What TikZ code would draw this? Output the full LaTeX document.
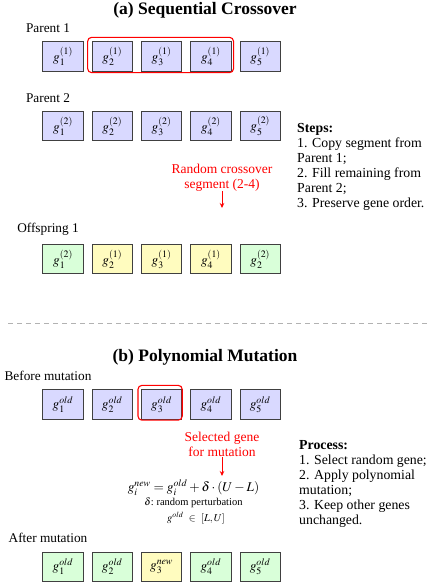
\documentclass[tikz,border=0pt]{standalone}
\usepackage{mathptmx}
\usepackage{fontspec}
\setmainfont{Liberation Serif}
\usetikzlibrary{arrows.meta,calc}
\begin{document}
\begin{tikzpicture}[x=1pt,y=-1pt,
 gene/.style={draw=black!75, line width=0.8pt, minimum width=40.5pt, minimum height=29.5pt, inner sep=0pt, font=\fontsize{13.3}{16}\selectfont},
 gblue/.style={gene, fill=blue!15},
 gyel/.style={gene, fill=yellow!25},
 ggreen/.style={gene, fill=green!15},
 lbl/.style={font=\fontsize{13.3}{16}\selectfont, inner sep=0pt},
 ttl/.style={font=\fontsize{17.5}{20}\selectfont\bfseries, inner sep=0pt},
 redtxt/.style={font=\fontsize{13.5}{15}\selectfont, text=red, align=center, inner sep=0pt},
 sel/.style={draw=red, line width=1.1pt, rounded corners=4pt},
 redarrow/.style={red, line width=0.9pt, -{Stealth[length=5pt,width=4.5pt]}},
 notes/.style={font=\fontsize{13.8}{15}\selectfont, align=left, inner sep=0pt},
 sep/.style={gray!60, line width=0.8pt, dash pattern=on 5pt off 4pt}
]
\useasboundingbox (0,0) rectangle (432,585);

% ---------- (a) Sequential Crossover ----------
\node[ttl] (ta) at (205,10) {(a) Sequential Crossover};
\node[lbl] (lp1) at (48,28) {Parent 1};
\node[lbl] (lp2) at (48,98) {Parent 2};
\node[lbl] (lo1) at (48,229) {Offspring 1};

\foreach \i/\x in {1/63,2/112.3,3/161.6,4/210.9,5/260.2}{
  \node[gblue] (p1\i) at (\x,56.5) {$g_{\i}^{(1)}$};
  \node[gblue] (p2\i) at (\x,126) {$g_{\i}^{(2)}$};
}
\node[ggreen] (o1) at (63,259)    {$g_{1}^{(2)}$};
\node[gyel]   (o2) at (112.3,259) {$g_{2}^{(1)}$};
\node[gyel]   (o3) at (161.6,259) {$g_{3}^{(1)}$};
\node[gyel]   (o4) at (210.9,259) {$g_{4}^{(1)}$};
\node[ggreen] (o5) at (260.2,259) {$g_{2}^{(2)}$};

\draw[sel] ($(p12.north west)+(-4,-4)$) rectangle ($(p14.south east)+(2,1)$);

\node[redtxt] (rc) at (222,177.5) {Random crossover\\segment (2-4)};
\coordinate (rcend) at (222,208);
\draw[redarrow] (rc.south) -- (rcend);

\node[notes, anchor=north west] (steps) at (297,123.5)
  {\textbf{Steps:}\\1. Copy segment from\\Parent 1;\\2. Fill remaining from\\Parent 2;\\3. Preserve gene order.};

% ---------- separator ----------
\coordinate (dl) at (8,323);
\coordinate (dr) at (428,323);
\draw[sep] (dl) -- (dr);

% ---------- (b) Polynomial Mutation ----------
\node[ttl] (tb) at (205,357) {(b) Polynomial Mutation};
\node[lbl] (lbm) at (48,376) {Before mutation};
\node[lbl] (lam) at (48,538) {After mutation};

\foreach \i/\x in {1/63,2/112.3,3/161.6,4/210.9,5/260.2}{
  \node[gblue] (b\i) at (\x,404.5) {$g_{\i}^{old}$};
}
\node[ggreen] (a1) at (63,567)    {$g_{1}^{old}$};
\node[ggreen] (a2) at (112.3,567) {$g_{2}^{old}$};
\node[gyel]   (a3) at (161.6,567) {$g_{3}^{new}$};
\node[ggreen] (a4) at (210.9,567) {$g_{4}^{old}$};
\node[ggreen] (a5) at (260.2,567) {$g_{5}^{old}$};

\draw[sel] ($(b3.north west)+(-3,-4)$) rectangle ($(b3.south east)+(0,0.5)$);

\node[redtxt] (sg) at (222,444.5) {Selected gene\\for mutation};
\coordinate (sgend) at (222,476);
\draw[redarrow] (sg.south) -- (sgend);

\node[lbl] (eq) at (193.5,488) {$g_i^{new} = g_i^{old} + \delta\cdot(U-L)$};
\node[font=\fontsize{10.5}{12}\selectfont, inner sep=0pt] (eq2) at (193.5,503) {$\delta$:\ random\ perturbation};
\node[font=\fontsize{10.5}{12}\selectfont, inner sep=0pt] (eq3) at (196,518) {$g^{old}$\ \ $\in$\ \ $[L,U]$};

\node[notes, anchor=north west] (proc) at (299,440.5)
  {\textbf{Process:}\\1. Select random gene;\\2. Apply polynomial\\mutation;\\3. Keep other genes\\unchanged.};
\end{tikzpicture}
\end{document}
